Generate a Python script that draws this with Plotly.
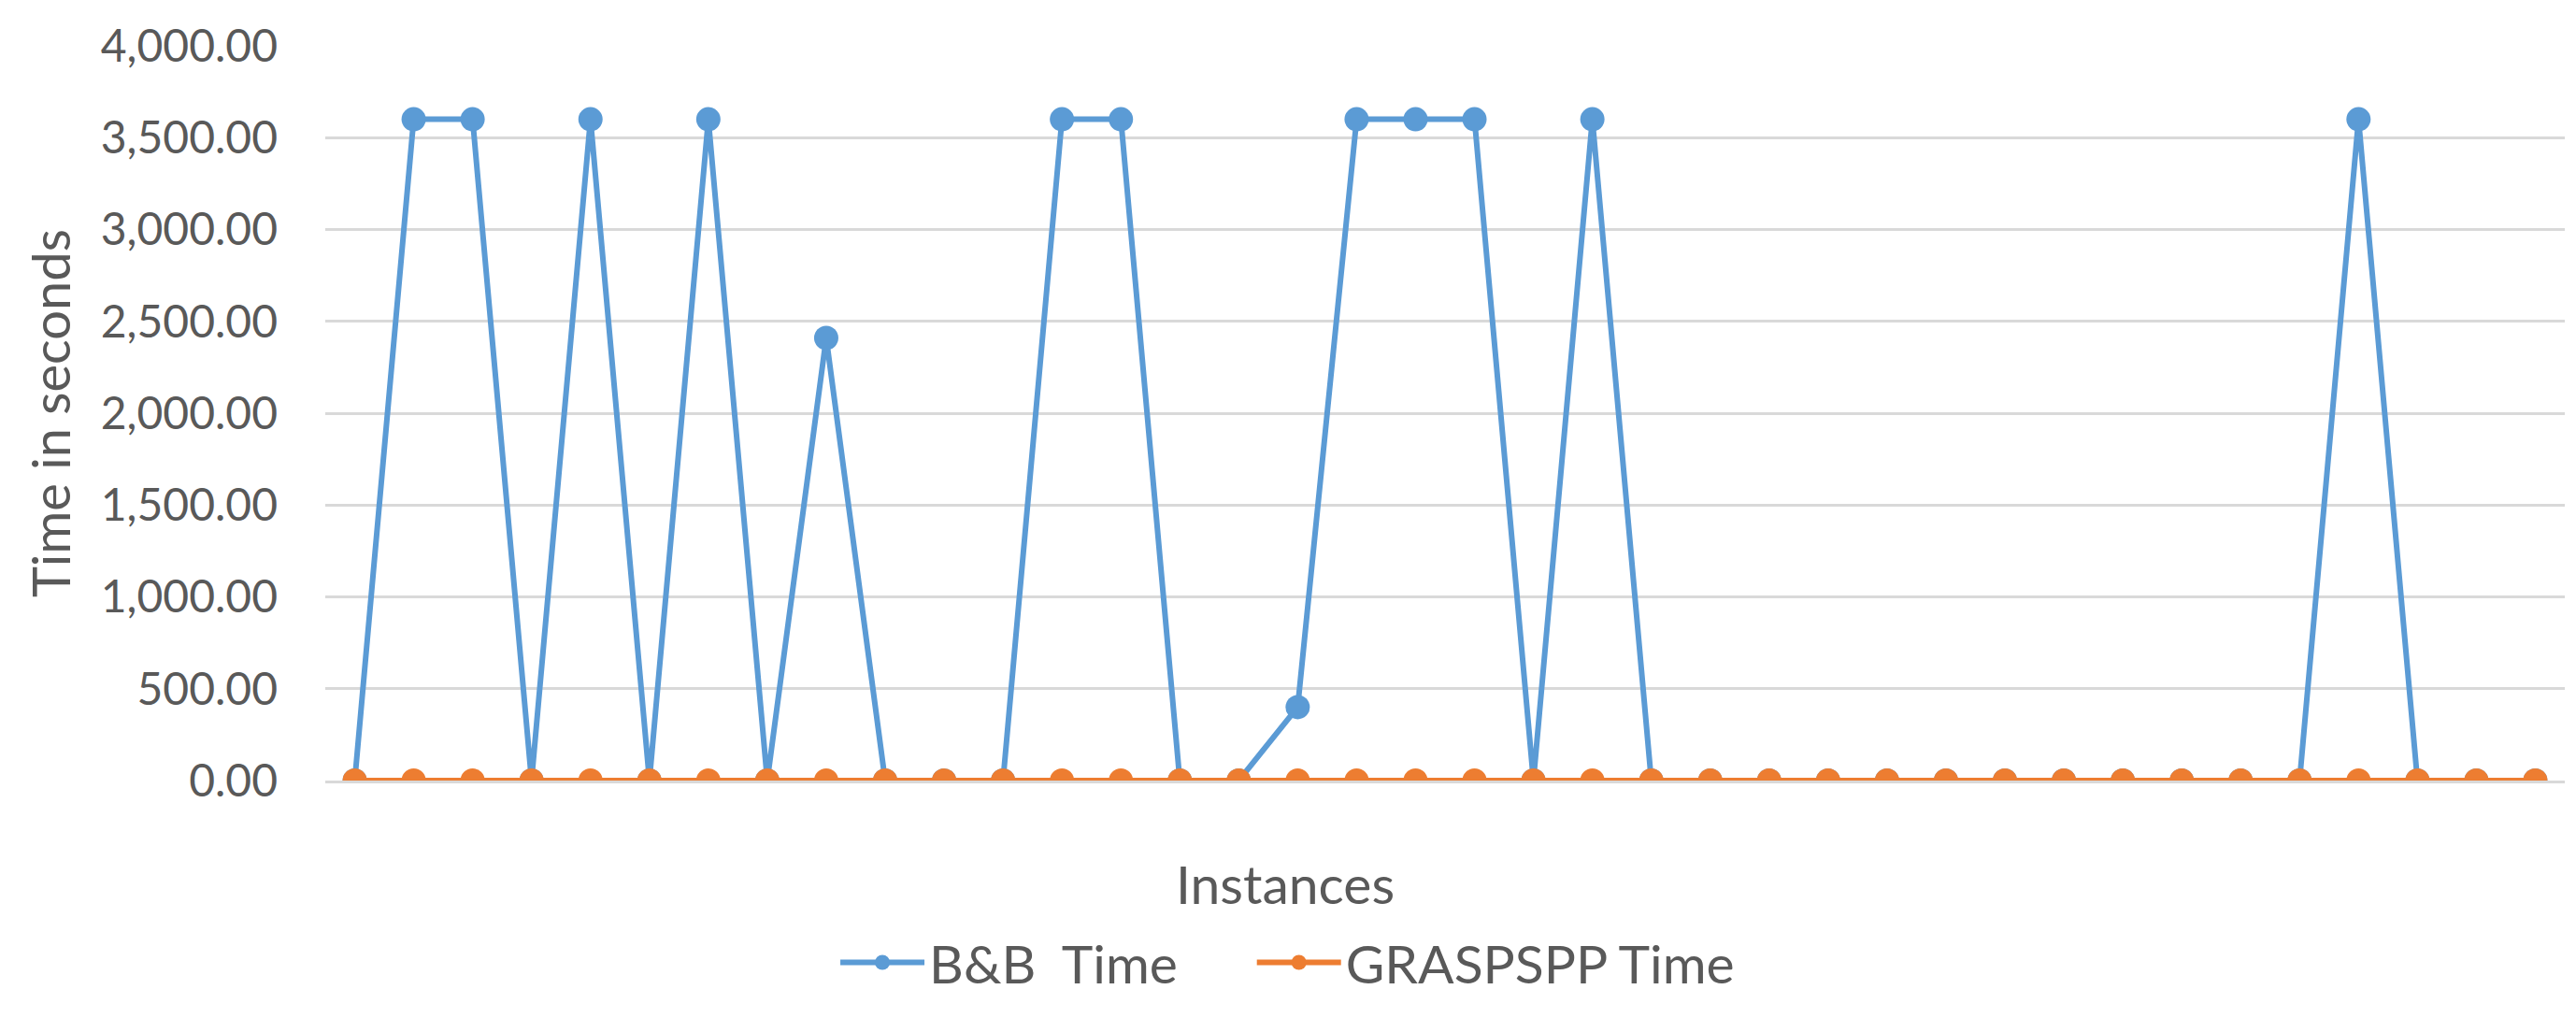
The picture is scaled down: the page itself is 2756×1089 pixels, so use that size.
import plotly.graph_objects as go

instances = [str(i) for i in range(1, 39)]
bb_time = [0, 3600, 3600, 0, 3600, 0, 3600, 0, 2410, 0,
           0, 0, 3600, 3600, 0, 0, 400, 3600, 3600, 3600,
           0, 3600, 0, 0, 0, 0, 0, 0, 0, 0,
           0, 0, 0, 0, 3600, 0, 0, 0]
grasp_time = [0] * 38
y_ticks = [0, 500, 1000, 1500, 2000, 2500, 3000, 3500, 4000]

FONT = "Lato"
GRAY = "#595959"
GRID = "#D9D9D9"

fig = go.Figure()
fig.add_trace(go.Scatter(
    x=instances, y=bb_time, name="B&B  Time", mode="lines+markers",
    line=dict(color="#5B9BD5", width=6),
    marker=dict(color="#5B9BD5", size=26),
    legend="legend",
))
fig.add_trace(go.Scatter(
    x=instances, y=grasp_time, name="GRASPSPP Time", mode="lines+markers",
    line=dict(color="#ED7D31", width=6),
    marker=dict(color="#ED7D31", size=26),
    legend="legend2",
))

legend_common = dict(orientation="h", yanchor="middle", y=-0.248, xanchor="left",
                     font=dict(size=57, color=GRAY, family=FONT), itemwidth=90,
                     bgcolor="rgba(0,0,0,0)", borderwidth=0)

fig.update_layout(
    width=2756, height=1089,
    margin=dict(l=348, r=12, t=49, b=254),
    plot_bgcolor="white", paper_bgcolor="white",
    font=dict(family=FONT, color=GRAY, size=48),
    showlegend=True,
    legend=dict(x=0.2279, **legend_common),
    legend2=dict(x=0.4139, **legend_common),
    annotations=[
        dict(text="Instances", xref="paper", yref="paper", x=0.4286, y=-0.140,
             xanchor="center", yanchor="middle", showarrow=False,
             font=dict(size=57, color=GRAY, family=FONT)),
        dict(text="Time in seconds", xref="paper", yref="paper", x=-0.1231, y=0.5,
             xanchor="center", yanchor="middle", textangle=-90, showarrow=False,
             font=dict(size=56, color=GRAY, family=FONT)),
    ],
)
fig.update_xaxes(type="category", showticklabels=False, showgrid=False,
                 showline=True, linecolor=GRID, linewidth=3, ticks="",
                 range=[-0.5, 37.5], zeroline=False, automargin=False)
fig.update_yaxes(range=[0, 4000], tickvals=y_ticks, tickformat=",.2f",
                 showgrid=True, gridcolor=GRID, gridwidth=3, zeroline=False,
                 showline=False, ticks="", ticklabelstandoff=50, automargin=False,
                 tickfont=dict(size=48, color=GRAY, family=FONT))

fig.write_html("out.html", config={"displayModeBar": False},
               post_script="document.body.style.margin='0';")
